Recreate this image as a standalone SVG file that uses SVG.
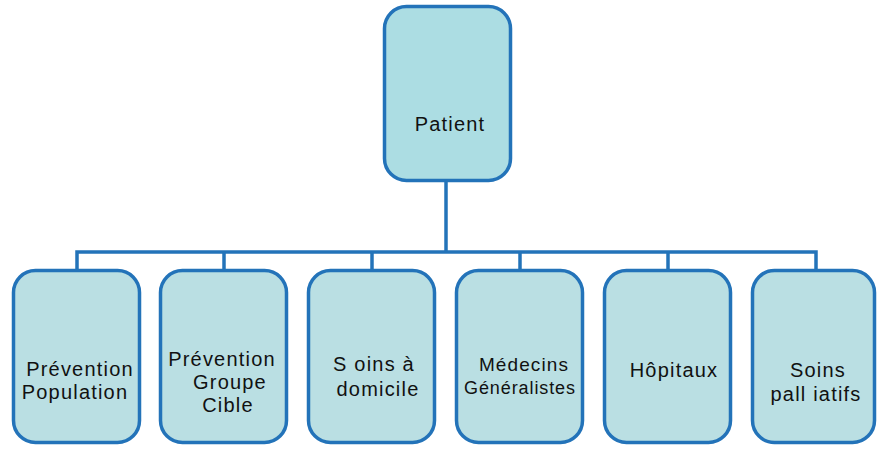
<svg xmlns="http://www.w3.org/2000/svg" width="877" height="449" viewBox="0 0 877 449">
<style>
.box{stroke:#2373b9;stroke-width:3.5;}
.root{fill:#acdde3;}
.child{fill:#badfe3;}
.lbl{font-family:"Liberation Sans",Arial,sans-serif;font-size:20px;fill:#111;text-anchor:middle;letter-spacing:1.2px;}
.conn{stroke:#2373b9;stroke-width:3.5;fill:none;}
</style>
<rect width="877" height="449" fill="#ffffff"/>
<g id="connectors">
<line class="conn" x1="446" y1="182" x2="446" y2="252"/>
<polyline class="conn" points="77,270 77,252 816,252 816,270"/>
<line class="conn" x1="224" y1="252" x2="224" y2="270"/>
<line class="conn" x1="372" y1="252" x2="372" y2="270"/>
<line class="conn" x1="520" y1="252" x2="520" y2="270"/>
<line class="conn" x1="668" y1="252" x2="668" y2="270"/>
</g>
<g id="patient">
<rect class="box root" x="384.5" y="6.5" width="126" height="174" rx="22"/>
<text class="lbl" x="450" y="131">Patient</text>
</g>
<g id="prevention-population">
<rect class="box child" x="13.5" y="270.5" width="126" height="172" rx="22"/>
<text class="lbl" x="80" y="376">Prévention</text>
<text class="lbl" x="75" y="399">Population</text>
</g>
<g id="prevention-groupe-cible">
<rect class="box child" x="160.5" y="270.5" width="126" height="172" rx="22"/>
<text class="lbl" x="222" y="366">Prévention</text>
<text class="lbl" x="230" y="389">Groupe</text>
<text class="lbl" x="228" y="412">Cible</text>
</g>
<g id="soins-domicile">
<rect class="box child" x="308.5" y="270.5" width="126" height="172" rx="22"/>
<text class="lbl" x="374" y="371">S oins à</text>
<text class="lbl" x="378" y="396">domicile</text>
</g>
<g id="medecins-generalistes">
<rect class="box child" x="456.5" y="270.5" width="126" height="172" rx="22"/>
<text class="lbl" x="524" y="371" style="font-size:19px;letter-spacing:1.1px">Médecins</text>
<text class="lbl" x="520" y="394" style="font-size:18px;letter-spacing:0.9px">Généralistes</text>
</g>
<g id="hopitaux">
<rect class="box child" x="604.5" y="270.5" width="126" height="172" rx="22"/>
<text class="lbl" x="674" y="377">Hôpitaux</text>
</g>
<g id="soins-palliatifs">
<rect class="box child" x="752.5" y="270.5" width="122" height="172" rx="22"/>
<text class="lbl" x="818" y="377">Soins</text>
<text class="lbl" x="816" y="401">pall iatifs</text>
</g>
</svg>
